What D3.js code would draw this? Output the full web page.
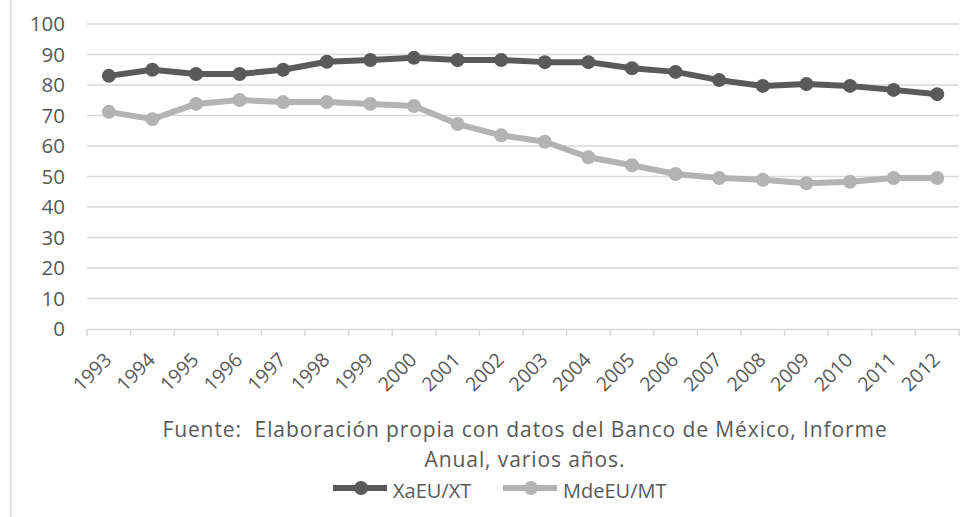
<!DOCTYPE html>
<html><head><meta charset="utf-8">
<script src="https://cdn.jsdelivr.net/npm/d3@7"></script>
<style>body{margin:0;background:#fff}svg{display:block}text{font-family:"Open Sans",sans-serif;fill:#595959}</style>
</head><body><svg id="c" width="978" height="517"></svg>
<script>
const years = ["1993","1994","1995","1996","1997","1998","1999","2000","2001","2002","2003","2004","2005","2006","2007","2008","2009","2010","2011","2012"];
const xaEU = [83,85,83.6,83.6,85,87.6,88.2,88.9,88.2,88.2,87.5,87.5,85.5,84.3,81.6,79.7,80.3,79.7,78.4,77];
const mdeEU = [71.2,68.8,73.8,75.1,74.4,74.4,73.8,73.1,67.2,63.5,61.4,56.3,53.7,50.8,49.5,48.9,47.8,48.3,49.5,49.5];
const yTicks = [0,10,20,30,40,50,60,70,80,90,100];
const seriesNames = ["XaEU/XT","MdeEU/MT"];
const colors = ["#5a5a5a","#b3b3b3"];
const caption = ["Fuente:  Elaboración propia con datos del Banco de México, Informe","Anual, varios años."];

const svg = d3.select("#c");
const L=87,R=959,T=24,B=329;
const x = d3.scaleBand().domain(years).range([L,R]);
const y = d3.scaleLinear().domain([0,100]).range([B,T]);
const cx = d => x(d)+x.bandwidth()/2;

svg.append("line").attr("x1",11).attr("x2",11).attr("y1",0).attr("y2",517).attr("stroke","#d9d9d9").attr("stroke-width",1.5);

// gridlines
svg.append("g").selectAll("line").data(yTicks.filter(d=>d>0)).join("line")
 .attr("x1",L).attr("x2",R).attr("y1",d=>y(d)).attr("y2",d=>y(d))
 .attr("stroke","#d9d9d9").attr("stroke-width",1.3);

// y labels
svg.append("g").selectAll("text").data(yTicks).join("text")
 .attr("x",65).attr("y",d=>y(d)).attr("dy","0.36em").attr("text-anchor","end")
 .attr("font-size",20.5).text(d=>d);

// x axis
const xa = d3.axisBottom(x).tickSizeOuter(0).tickSize(0).tickFormat("");
const gx = svg.append("g").attr("transform",`translate(0,${B})`).call(xa);
gx.select(".domain").attr("stroke","#d9d9d9").attr("stroke-width",1.5);
gx.selectAll(".tick").remove();
const edges = years.map(d=>x(d)).concat([R]);
gx.selectAll(".edge").data(edges).join("line").attr("class","edge")
 .attr("x1",d=>d).attr("x2",d=>d).attr("y1",0).attr("y2",7).attr("stroke","#d9d9d9").attr("stroke-width",1.5);
svg.append("g").selectAll("text").data(years).join("text")
 .attr("font-size",19.5).attr("text-anchor","end")
 .attr("transform",d=>`translate(${cx(d)+4},${B+32}) rotate(-45)`)
 .text(d=>d);

const line = d3.line().x((d,i)=>cx(years[i])).y(d=>y(d));
[xaEU,mdeEU].forEach((s,k)=>{
  svg.append("path").datum(s).attr("d",line).attr("fill","none")
   .attr("stroke",colors[k]).attr("stroke-width",6).attr("stroke-linejoin","round");
  svg.append("g").selectAll("circle").data(s).join("circle")
   .attr("cx",(d,i)=>cx(years[i])).attr("cy",d=>y(d)).attr("r",7).attr("fill",colors[k]);
});

// caption
svg.append("g").selectAll("text").data(caption).join("text")
 .attr("x",525).attr("y",(d,i)=>437+i*30).attr("text-anchor","middle").attr("font-size",21)
 .attr("letter-spacing","0.9px")
 .attr("xml:space","preserve").text(d=>d);

// legend
const leg = [{x0:333,name:seriesNames[0],c:colors[0]},{x0:503,name:seriesNames[1],c:colors[1]}];
const lg = svg.append("g");
leg.forEach(l=>{
  lg.append("line").attr("x1",l.x0).attr("x2",l.x0+54).attr("y1",488).attr("y2",488).attr("stroke",l.c).attr("stroke-width",6);
  lg.append("circle").attr("cx",l.x0+28).attr("cy",488).attr("r",7).attr("fill",l.c);
  lg.append("text").attr("x",l.x0+60).attr("y",498).attr("font-size",20).text(l.name);
});
</script></body></html>
